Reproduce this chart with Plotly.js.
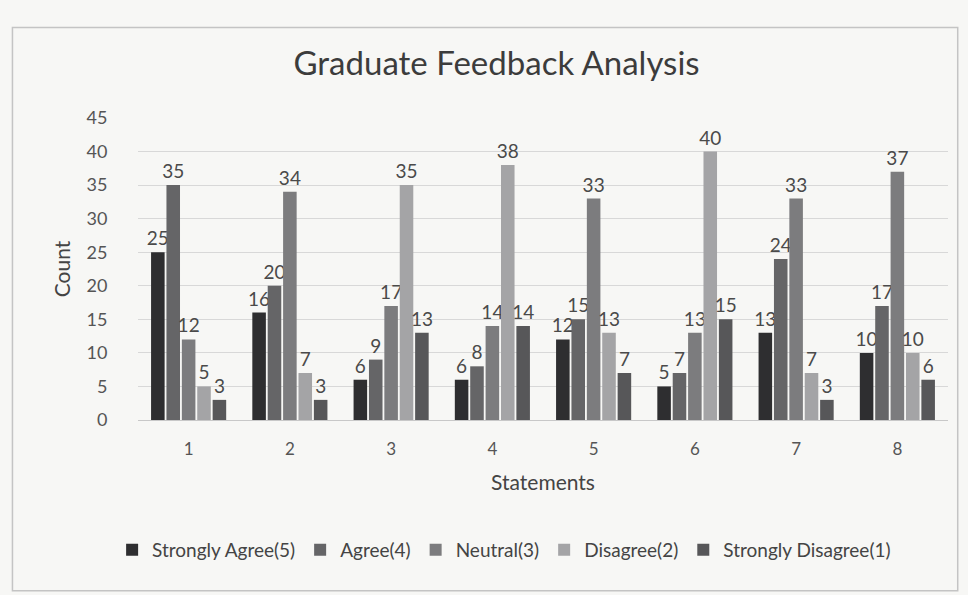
<!DOCTYPE html>
<html><head><meta charset="utf-8">
<script src="https://cdn.plot.ly/plotly-3.0.1.min.js"></script>
<style>html,body{margin:0;padding:0;background:#f7f7f5;}#chart{width:968px;height:595px;}</style>
</head><body><div id="chart"></div>
<script>
const statements = ['1','2','3','4','5','6','7','8'];
const seriesNames = ['Strongly Agree(5)','Agree(4)','Neutral(3)','Disagree(2)','Strongly Disagree(1)'];
const stronglyAgree = [25,16,6,6,12,5,13,10];
const agree = [35,20,9,8,15,7,24,17];
const neutral = [12,34,17,14,33,13,33,37];
const disagree = [5,7,35,38,13,40,7,10];
const stronglyDisagree = [3,3,13,14,7,15,3,6];
const yTicks = [0,5,10,15,20,25,30,35,40,45];

const values = [stronglyAgree, agree, neutral, disagree, stronglyDisagree];
const colors = ['#2e2e30','#656567','#7c7c7e','#a4a4a6','#575759'];
const FONT = 'Lato, "Open Sans", sans-serif';
const traces = values.map((v,i)=>({
  type:'bar', name:seriesNames[i], x:statements, y:v,
  marker:{color:colors[i]},
  text:v.map(String), textposition:'outside', cliponaxis:false, constraintext:'none',
  textfont:{family:FONT, size:19, color:'#4a4a4a'}
}));
const layout = {
  width:968, height:595,
  paper_bgcolor:'#f7f7f5', plot_bgcolor:'#f7f7f5',
  margin:{l:138,r:20,t:118,b:175},
  title:{text:'Graduate Feedback Analysis', x:0.513, xanchor:'center', y:0.893, yanchor:'middle',
    font:{family:FONT, size:33, color:'#3c3c3c'}},
  barmode:'group', bargap:0.24, bargroupgap:0.12,
  xaxis:{type:'category', showgrid:false, showline:true, linecolor:'#c8c8c8',
    ticks:'outside', ticklen:14, tickcolor:'rgba(0,0,0,0)',
    tickfont:{family:FONT, size:17, color:'#555'},
    title:{text:'Statements', font:{family:FONT, size:21, color:'#444'}, standoff:16}},
  yaxis:{range:[0,45], tickvals:yTicks, showgrid:true, gridcolor:'#d8d8d8', zeroline:false,
    ticks:'outside', ticklen:26, tickcolor:'rgba(0,0,0,0)',
    tickfont:{family:FONT, size:18, color:'#555'},
    title:{text:'Count', font:{family:FONT, size:21, color:'#444'}, standoff:10}},
  legend:{orientation:'h', x:0.452, xanchor:'center', y:-0.43, yanchor:'middle',
    font:{family:FONT, size:19, color:'#444'}, itemwidth:30, bgcolor:'rgba(0,0,0,0)'},
  showlegend:true,
  shapes:[{type:'rect', xref:'paper', yref:'paper', x0:-0.155, x1:1.012, y0:-0.565, y1:1.3,
    line:{color:'#c4c4c4', width:1.5}, fillcolor:'rgba(0,0,0,0)', layer:'below'}]
};
Plotly.newPlot('chart', traces, layout, {displayModeBar:false, staticPlot:true});
</script></body></html>
